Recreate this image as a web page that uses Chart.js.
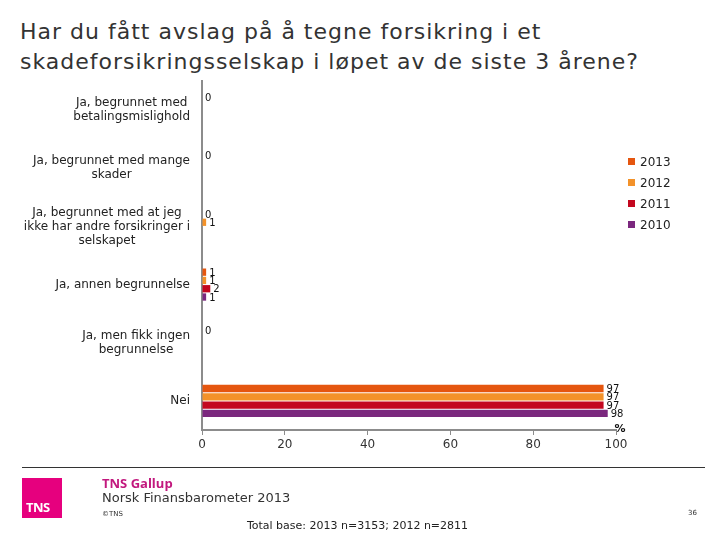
<!DOCTYPE html>
<html>
<head>
<meta charset="utf-8">
<script src="https://cdn.jsdelivr.net/npm/chart.js@4.4.0/dist/chart.umd.min.js"></script>
<style>
  html, body { margin: 0; padding: 0; background: #fff; }
  body { width: 720px; height: 540px; position: relative; overflow: hidden; font-family: "DejaVu Sans", Verdana, sans-serif; }
  #title { position: absolute; left: 20px; top: 17px; font-size: 22px; letter-spacing: 1px; line-height: 30px; color: #333; white-space: nowrap; }
  #chartWrap { position: absolute; left: 0; top: 0; width: 720px; height: 540px; }
  #legend { position: absolute; left: 628px; top: 154px; font-size: 12px; color: #222; }
  #legend div { height: 21px; line-height: 16px; white-space: nowrap; }
  #legend span.box { display: inline-block; width: 7px; height: 7px; margin-right: 5px; vertical-align: 1px; }
  #rule { position: absolute; left: 22px; top: 467px; width: 683px; height: 1px; background: #333; }
  #logo { position: absolute; left: 22px; top: 478px; width: 40px; height: 40px; background: #e6007e; }
  #logo span { position: absolute; left: 4px; bottom: 2px; color: #fff; font-weight: bold; font-size: 13px; font-family: "Open Sans", "DejaVu Sans", sans-serif; letter-spacing: -0.5px; }
  #gallup { position: absolute; left: 102px; top: 474px; font-size: 13px; font-weight: bold; color: #c2187e; font-family: "Open Sans", "DejaVu Sans", sans-serif; }
  #fb { position: absolute; left: 102px; top: 490px; font-size: 13px; color: #333; }
  #copy { position: absolute; left: 102px; top: 510px; font-size: 7px; color: #333; }
  #page { position: absolute; left: 688px; top: 509px; font-size: 7px; color: #333; }
  #base { position: absolute; left: 0; width: 715px; text-align: center; top: 519px; font-size: 11px; color: #222; }
</style>
</head>
<body>
<div id="title">Har du fått avslag på å tegne forsikring i et<br>skadeforsikringsselskap i løpet av de siste 3 årene?</div>
<div id="chartWrap"><canvas id="chart" width="720" height="540"></canvas></div>
<div id="legend"></div>
<div id="rule"></div>
<div id="logo"><span>TNS</span></div>
<div id="gallup">TNS Gallup</div>
<div id="fb">Norsk Finansbarometer 2013</div>
<div id="copy">©TNS</div>
<div id="page">36</div>
<div id="base">Total base: 2013 n=3153; 2012 n=2811</div>
<script>
const categories = [
  ['Ja, begrunnet med', 'betalingsmislighold'],
  ['Ja, begrunnet med mange', 'skader'],
  ['Ja, begrunnet med at jeg', 'ikke har andre forsikringer i', 'selskapet'],
  ['Ja, annen begrunnelse'],
  ['Ja, men fikk ingen', 'begrunnelse'],
  ['Nei']
];
const seriesNames = ['2013', '2012', '2011', '2010'];
const seriesColors = ['#e5560f', '#f3922a', '#c3071f', '#7b287e'];
const values2013 = [0, 0, 0, 1, 0, 97];
const values2012 = [null, null, 1, 1, null, 97];
const values2011 = [null, null, null, 2, null, 97];
const values2010 = [null, null, null, 1, null, 98];
const xTicks = [0, 20, 40, 60, 80, 100];

const allValues = [values2013, values2012, values2011, values2010];

// html legend
const legendEl = document.getElementById('legend');
seriesNames.forEach((name, i) => {
  const row = document.createElement('div');
  row.innerHTML = '<span class="box" style="background:' + seriesColors[i] + '"></span>' + name;
  legendEl.appendChild(row);
});

const valueLabels = {
  id: 'valueLabels',
  afterDatasetsDraw(chart) {
    const ctx = chart.ctx;
    ctx.save();
    ctx.font = '10px "DejaVu Sans", sans-serif';
    ctx.fillStyle = '#111';
    ctx.textAlign = 'left';
    ctx.textBaseline = 'middle';
    chart.data.datasets.forEach((ds, di) => {
      const meta = chart.getDatasetMeta(di);
      meta.data.forEach((bar, i) => {
        const v = ds.data[i];
        if (v === null || v === undefined) return;
        ctx.fillText(String(v), bar.x + 3, bar.y + 1);
      });
    });
    ctx.restore();
  }
};

const axisText = {
  id: 'axisText',
  afterDraw(chart) {
    const ctx = chart.ctx;
    const y = chart.scales.y;
    const area = chart.chartArea;
    ctx.save();
    ctx.font = '12px "DejaVu Sans", sans-serif';
    ctx.fillStyle = '#222';
    ctx.textBaseline = 'middle';
    const lineH = 14;
    const right = 190;
    categories.forEach((lines, i) => {
      const cy = y.getPixelForValue(i);
      const blockW = Math.max(...lines.map(l => ctx.measureText(l).width));
      const cx = right - blockW / 2;
      ctx.textAlign = 'center';
      lines.forEach((l, k) => {
        ctx.fillText(l, cx, cy + (k - (lines.length - 1) / 2) * lineH);
      });
    });
    // percent sign
    ctx.font = 'bold 11px "DejaVu Sans", sans-serif';
    ctx.fillStyle = '#111';
    ctx.textAlign = 'center';
    ctx.fillText('%', area.right + 4, area.bottom - 1);
    ctx.restore();
  }
};

new Chart(document.getElementById('chart'), {
  type: 'bar',
  data: {
    labels: categories.map(c => c.join(' ')),
    datasets: seriesNames.map((name, i) => ({
      label: name,
      data: allValues[i],
      backgroundColor: seriesColors[i],
      categoryPercentage: 0.57,
      barPercentage: 0.88
    }))
  },
  options: {
    indexAxis: 'y',
    responsive: false,
    animation: false,
    layout: { padding: { top: 81, bottom: 80, left: 0, right: 104 } },
    plugins: {
      legend: { display: false },
      tooltip: { enabled: false }
    },
    scales: {
      x: {
        min: 0,
        max: 100,
        afterBuildTicks(scale) { scale.ticks = xTicks.map(v => ({ value: v })); },
        afterFit(scale) { scale.height = 30; },
        border: { display: true, color: '#8c8c8c', width: 2 },
        grid: { display: true, drawOnChartArea: false, drawTicks: true, tickLength: 5, color: '#8c8c8c', lineWidth: 1 },
        ticks: { color: '#333', padding: 3, font: { size: 12, family: '"DejaVu Sans", sans-serif' }, maxRotation: 0 }
      },
      y: {
        afterFit(scale) { scale.width = 202; },
        border: { display: true, color: '#8c8c8c', width: 2 },
        grid: { display: false },
        ticks: { display: false }
      }
    }
  },
  plugins: [valueLabels, axisText]
});
</script>
</body>
</html>
